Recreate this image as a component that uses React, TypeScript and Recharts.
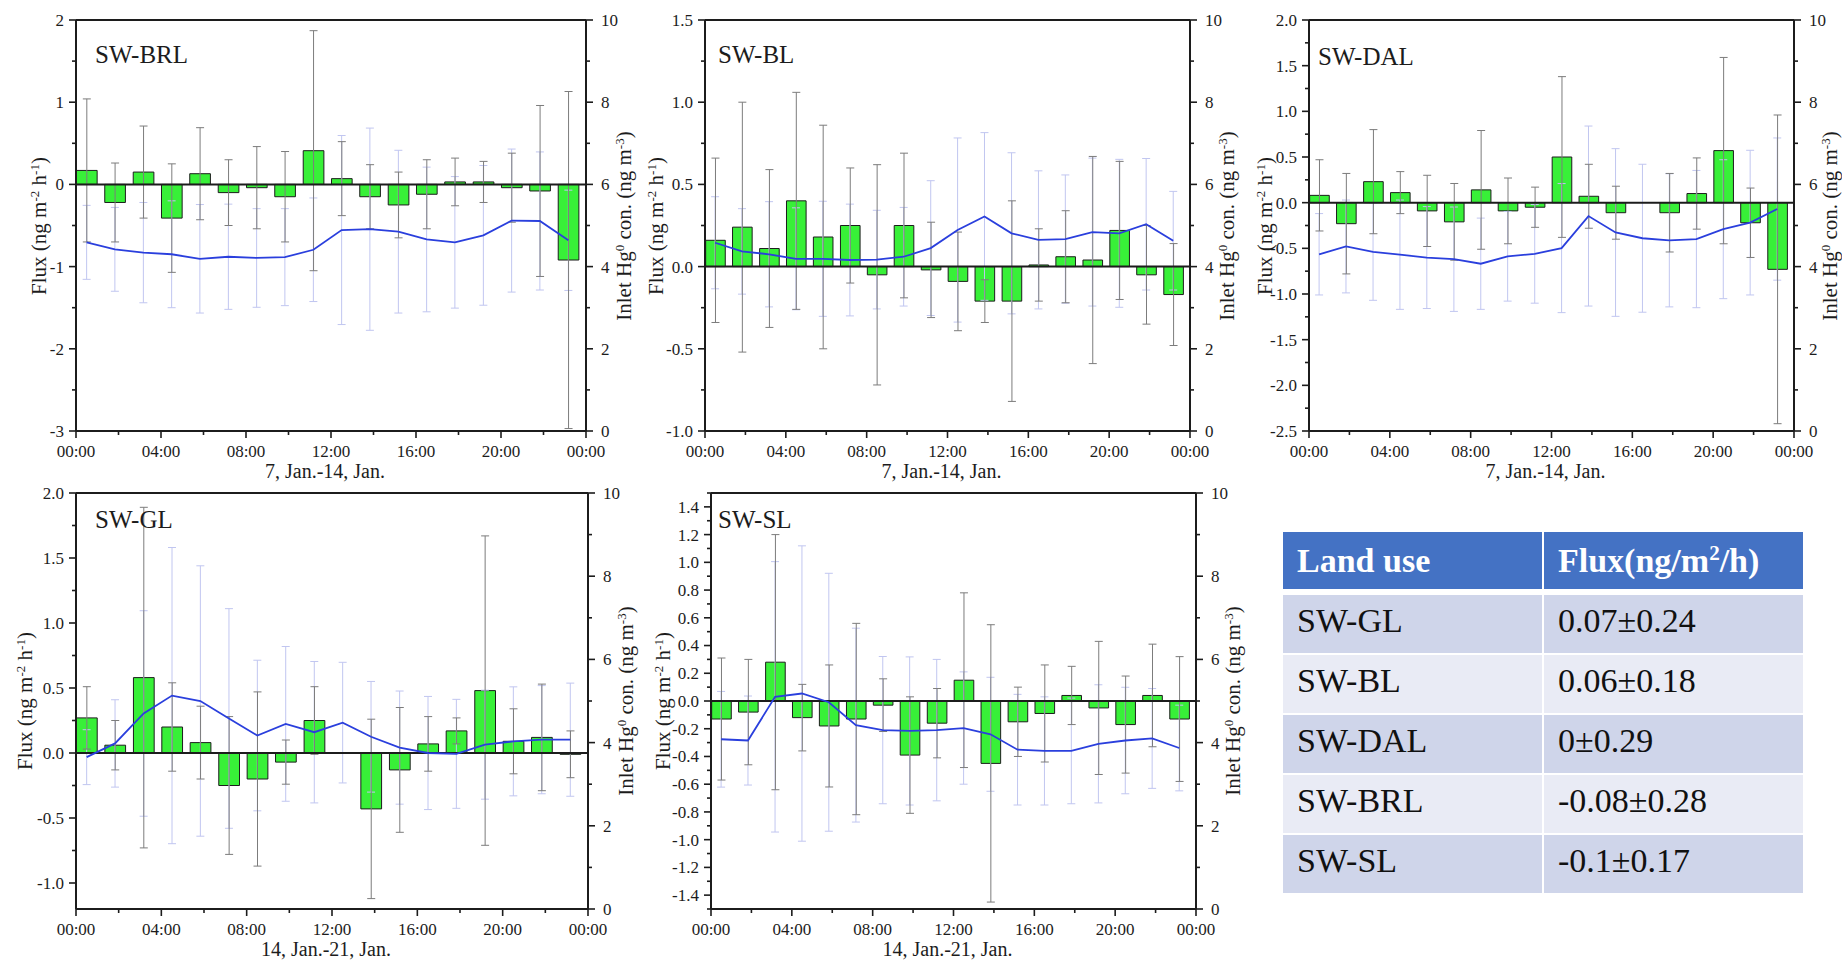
import {
  Bar,
  ComposedChart,
  ErrorBar,
  Line,
  ReferenceLine,
  XAxis,
  YAxis
} from 'recharts';

const SERIF = '"Liberation Serif", "Times New Roman", serif';
const INK = '#1c1c1c';
const GREEN = '#38f038';
const BLUE = '#2a3fdd';
const SD_DARK = '#7c7c7c';
const SD_LIGHT = '#c1c6f0';

// bin centres in hours (80 min bins over the day)
const hours = [0.5, 1.83, 3.17, 4.5, 5.83, 7.17, 8.5, 9.83, 11.17, 12.5, 13.83, 15.17, 16.5, 17.83, 19.17, 20.5, 21.83, 23.17];
const hourMajor = [0, 4, 8, 12, 16, 20, 24];
const hourMinor = [2, 6, 10, 14, 18, 22];
const hgMajor = [0, 2, 4, 6, 8, 10];
const hgMinor = [1, 3, 5, 7, 9];

// SW-BRL
const brlFlux = [0.17, -0.22, 0.15, -0.41, 0.13, -0.1, -0.04, -0.15, 0.41, 0.07, -0.15, -0.25, -0.12, 0.03, 0.03, -0.04, -0.08, -0.92];
const brlFluxSd = [0.87, 0.48, 0.56, 0.66, 0.56, 0.4, 0.5, 0.55, 1.46, 0.45, 0.39, 0.4, 0.42, 0.29, 0.25, 0.42, 1.04, 2.05];
const brlHg = [4.59, 4.42, 4.34, 4.3, 4.19, 4.24, 4.21, 4.23, 4.41, 4.89, 4.91, 4.85, 4.66, 4.59, 4.76, 5.12, 5.11, 4.64];
const brlHgSd = [0.9, 1.02, 1.22, 1.3, 1.32, 1.28, 1.2, 1.18, 1.26, 2.3, 2.46, 1.98, 1.76, 1.6, 1.7, 1.74, 1.68, 1.22];
const brlMajor = [-3, -2, -1, 0, 1, 2];
const brlMinor = [-2.5, -1.5, -0.5, 0.5, 1.5];

// SW-BL
const blFlux = [0.16, 0.24, 0.11, 0.4, 0.18, 0.25, -0.05, 0.25, -0.02, -0.09, -0.21, -0.21, 0.01, 0.06, 0.04, 0.22, -0.05, -0.17];
const blFluxSd = [0.5, 0.76, 0.48, 0.66, 0.68, 0.35, 0.67, 0.44, 0.29, 0.3, 0.13, 0.61, 0.22, 0.28, 0.63, 0.42, 0.3, 0.31];
const blHg = [4.58, 4.37, 4.3, 4.19, 4.19, 4.16, 4.17, 4.24, 4.45, 4.89, 5.22, 4.81, 4.65, 4.67, 4.84, 4.81, 5.03, 4.63];
const blHgSd = [1.12, 1.04, 1.28, 1.24, 1.4, 1.36, 1.2, 1.2, 1.64, 2.24, 2.04, 1.96, 1.68, 1.56, 1.8, 1.8, 1.6, 1.2];
const blMajor = [-1, -0.5, 0, 0.5, 1, 1.5];
const blMinor = [-0.75, -0.25, 0.25, 0.75, 1.25];

// SW-DAL
const dalFlux = [0.08, -0.23, 0.23, 0.11, -0.09, -0.21, 0.14, -0.09, -0.05, 0.5, 0.07, -0.11, 0, -0.11, 0.1, 0.57, -0.22, -0.73];
const dalFluxSd = [0.39, 0.55, 0.57, 0.23, 0.39, 0.42, 0.65, 0.36, 0.22, 0.88, 0.35, 0.29, 0.51, 0.43, 0.39, 1.02, 0.38, 1.69];
const dalHg = [4.3, 4.49, 4.36, 4.29, 4.22, 4.18, 4.07, 4.25, 4.31, 4.45, 5.23, 4.83, 4.69, 4.64, 4.67, 4.91, 5.07, 5.4];
const dalHgSd = [0.99, 1.13, 1.18, 1.33, 1.24, 1.27, 1.11, 1.09, 1.2, 1.57, 2.19, 2.04, 1.8, 1.62, 1.67, 1.69, 1.76, 1.73];
const dalMajor = [-2.5, -2, -1.5, -1, -0.5, 0, 0.5, 1, 1.5, 2];
const dalMinor = [-2.25, -1.75, -1.25, -0.75, -0.25, 0.25, 0.75, 1.25, 1.75];

// SW-GL
const glFlux = [0.27, 0.06, 0.58, 0.2, 0.08, -0.25, -0.2, -0.07, 0.25, 0, -0.43, -0.13, 0.07, 0.17, 0.48, 0.09, 0.12, -0.01];
const glFluxSd = [0.24, 0.19, 1.31, 0.34, 0.28, 0.53, 0.67, 0.17, 0.26, 0.4, 0.69, 0.48, 0.21, 0.1, 1.19, 0.25, 0.41, 0.18];
const glHg = [3.65, 3.98, 4.7, 5.13, 5.0, 4.58, 4.17, 4.45, 4.25, 4.48, 4.14, 3.88, 3.75, 3.73, 3.95, 4.03, 4.07, 4.07];
const glHgSd = [0.66, 1.05, 2.47, 3.56, 3.25, 2.64, 1.81, 1.86, 1.7, 1.45, 1.33, 1.36, 1.36, 1.31, 1.31, 1.31, 1.3, 1.36];
const glMajor = [-1, -0.5, 0, 0.5, 1, 1.5, 2];
const glMinor = [-0.75, -0.25, 0.25, 0.75, 1.25, 1.75];

// SW-SL
const slFlux = [-0.13, -0.08, 0.28, -0.12, -0.18, -0.13, -0.03, -0.39, -0.16, 0.15, -0.45, -0.15, -0.09, 0.04, -0.05, -0.17, 0.04, -0.13];
const slFluxSd = [0.44, 0.38, 0.92, 0.24, 0.44, 0.69, 0.19, 0.42, 0.25, 0.63, 1.0, 0.25, 0.35, 0.21, 0.48, 0.35, 0.37, 0.45];
const slHg = [4.08, 4.05, 5.1, 5.18, 4.97, 4.42, 4.3, 4.28, 4.3, 4.35, 4.2, 3.83, 3.8, 3.8, 3.97, 4.05, 4.1, 3.87];
const slHgSd = [1.15, 1.07, 3.25, 3.55, 3.1, 2.33, 1.77, 1.78, 1.7, 1.35, 1.37, 1.33, 1.3, 1.27, 1.42, 1.28, 1.2, 1.03];
const slMajor = [-1.4, -1.2, -1, -0.8, -0.6, -0.4, -0.2, 0, 0.2, 0.4, 0.6, 0.8, 1, 1.2, 1.4];
const slMinor = [-1.5, -1.3, -1.1, -0.9, -0.7, -0.5, -0.3, -0.1, 0.1, 0.3, 0.5, 0.7, 0.9, 1.1, 1.3, 1.5];

// summary table
const landUse = ['SW-GL', 'SW-BL', 'SW-DAL', 'SW-BRL', 'SW-SL'];
const fluxSummary = ['0.07±0.24', '0.06±0.18', '0±0.29', '-0.08±0.28', '-0.1±0.17'];

type Box = { left: number; top: number; width: number; height: number };

type PanelSpec = {
  name: string;
  flux: number[];
  fluxSd: number[];
  hg: number[];
  hgSd: number[];
  domain: [number, number];
  major: number[];
  minor: number[];
  decimals: number;
  period: string;
  box: Box;
  nameDx: number;
  nameBaseline: number;
  leftTitleX: number;
  rightTitleX: number;
};

const panels: PanelSpec[] = [
  {
    name: 'SW-BRL', flux: brlFlux, fluxSd: brlFluxSd, hg: brlHg, hgSd: brlHgSd,
    domain: [-3, 2], major: brlMajor, minor: brlMinor, decimals: 0, period: '7, Jan.-14, Jan.',
    box: { left: 76, top: 20, width: 510, height: 411 },
    nameDx: 19, nameBaseline: 63, leftTitleX: 39, rightTitleX: 624
  },
  {
    name: 'SW-BL', flux: blFlux, fluxSd: blFluxSd, hg: blHg, hgSd: blHgSd,
    domain: [-1, 1.5], major: blMajor, minor: blMinor, decimals: 1, period: '7, Jan.-14, Jan.',
    box: { left: 705, top: 20, width: 485, height: 411 },
    nameDx: 13, nameBaseline: 63, leftTitleX: 656, rightTitleX: 1227
  },
  {
    name: 'SW-DAL', flux: dalFlux, fluxSd: dalFluxSd, hg: dalHg, hgSd: dalHgSd,
    domain: [-2.5, 2], major: dalMajor, minor: dalMinor, decimals: 1, period: '7, Jan.-14, Jan.',
    box: { left: 1309, top: 20, width: 485, height: 411 },
    nameDx: 9, nameBaseline: 65, leftTitleX: 1265, rightTitleX: 1830
  },
  {
    name: 'SW-GL', flux: glFlux, fluxSd: glFluxSd, hg: glHg, hgSd: glHgSd,
    domain: [-1.2, 2], major: glMajor, minor: glMinor, decimals: 1, period: '14, Jan.-21, Jan.',
    box: { left: 76, top: 493, width: 512, height: 416 },
    nameDx: 19, nameBaseline: 528, leftTitleX: 25, rightTitleX: 626
  },
  {
    name: 'SW-SL', flux: slFlux, fluxSd: slFluxSd, hg: slHg, hgSd: slHgSd,
    domain: [-1.5, 1.5], major: slMajor, minor: slMinor, decimals: 1, period: '14, Jan.-21, Jan.',
    box: { left: 711, top: 493, width: 485, height: 416 },
    nameDx: 7, nameBaseline: 528, leftTitleX: 663, rightTitleX: 1233
  }
];

const has = (list: number[], v: number) => list.some((m) => Math.abs(m - v) < 1e-6);
const byValue = (a: number, b: number) => a - b;

function hourLabel(h: number) {
  return `${String(h % 24).padStart(2, '0')}:00`;
}

function Sup(props: { children: string }) {
  return (
    <span style={{ fontSize: '0.62em', position: 'relative', top: '-0.55em' }}>{props.children}</span>
  );
}

function Rotated(props: { x: number; y: number; children: any }) {
  return (
    <div
      style={{
        position: 'absolute',
        left: props.x,
        top: props.y,
        transform: 'translate(-50%, -50%) rotate(-90deg)',
        whiteSpace: 'nowrap',
        fontSize: 21,
        lineHeight: 1,
        color: INK
      }}
    >
      {props.children}
    </div>
  );
}

const tickText = { fontSize: 17, fill: INK, style: { fontFamily: SERIF } };

function Panel({ p }: { p: PanelSpec }) {
  const { left, top, width, height } = p.box;
  const AXW = 60;
  const PAD = 10;
  const XH = 50;
  const data = hours.map((t, i) => ({
    t,
    flux: p.flux[i],
    fluxSd: p.fluxSd[i],
    hg: p.hg[i],
    hgSd: p.hgSd[i]
  }));
  const xTicks = [...hourMajor, ...hourMinor].sort(byValue);
  const yTicks = [...p.major, ...p.minor].sort(byValue);
  const rTicks = [...hgMajor, ...hgMinor].sort(byValue);
  const midY = top + height / 2;

  const xTick = (tp: any) => {
    const major = has(hourMajor, tp.payload.value);
    return (
      <g>
        <line x1={tp.x} y1={tp.y} x2={tp.x} y2={tp.y + (major ? 7 : 4)} stroke={INK} strokeWidth={1.6} />
        {major && (
          <text x={tp.x} y={tp.y + 25.5} textAnchor="middle" {...tickText}>
            {hourLabel(tp.payload.value)}
          </text>
        )}
      </g>
    );
  };

  const leftTick = (tp: any) => {
    const v = tp.payload.value;
    const major = has(p.major, v);
    return (
      <g>
        <line x1={tp.x} y1={tp.y} x2={tp.x - (major ? 7 : 4)} y2={tp.y} stroke={INK} strokeWidth={1.6} />
        {major && (
          <text x={tp.x - 12} y={tp.y} dy="0.35em" textAnchor="end" {...tickText}>
            {v.toFixed(p.decimals)}
          </text>
        )}
      </g>
    );
  };

  const rightTick = (tp: any) => {
    const v = tp.payload.value;
    const major = has(hgMajor, v);
    return (
      <g>
        <line x1={tp.x} y1={tp.y} x2={tp.x + (major ? 7 : 4)} y2={tp.y} stroke={INK} strokeWidth={1.6} />
        {major && (
          <text x={tp.x + 15} y={tp.y} dy="0.35em" textAnchor="start" {...tickText}>
            {v}
          </text>
        )}
      </g>
    );
  };

  return (
    <>
      <div style={{ position: 'absolute', left: left - AXW, top: top - PAD }}>
        <ComposedChart
          width={width + 2 * AXW}
          height={height + PAD + XH}
          data={data}
          margin={{ top: PAD, right: 0, bottom: 0, left: 0 }}
        >
          <XAxis
            dataKey="t"
            type="number"
            domain={[0, 24]}
            ticks={xTicks}
            interval={0}
            height={XH}
            tickSize={0}
            tickMargin={0}
            tickLine={false}
            axisLine={{ stroke: INK, strokeWidth: 2 }}
            tick={xTick}
            allowDataOverflow
          />
          <YAxis
            yAxisId="left"
            type="number"
            domain={p.domain}
            ticks={yTicks}
            interval={0}
            width={AXW}
            tickSize={0}
            tickMargin={0}
            tickLine={false}
            axisLine={{ stroke: INK, strokeWidth: 2 }}
            tick={leftTick}
            allowDataOverflow
          />
          <YAxis
            yAxisId="right"
            orientation="right"
            type="number"
            domain={[0, 10]}
            ticks={rTicks}
            interval={0}
            width={AXW}
            tickSize={0}
            tickMargin={0}
            tickLine={false}
            axisLine={{ stroke: INK, strokeWidth: 2 }}
            tick={rightTick}
            allowDataOverflow
          />
          <ReferenceLine yAxisId="left" y={p.domain[1]} stroke={INK} strokeWidth={2} />
          <Line
            yAxisId="right"
            dataKey="hg"
            stroke="none"
            dot={false}
            activeDot={false}
            isAnimationActive={false}
          >
            <ErrorBar dataKey="hgSd" width={4} stroke={SD_LIGHT} strokeWidth={1} />
          </Line>
          <Bar
            yAxisId="left"
            dataKey="flux"
            barSize={width / 24 - 0.6}
            fill={GREEN}
            stroke={INK}
            strokeWidth={1}
            isAnimationActive={false}
          >
            <ErrorBar dataKey="fluxSd" width={4} stroke={SD_DARK} strokeWidth={1} />
          </Bar>
          <ReferenceLine yAxisId="left" y={0} stroke={INK} strokeWidth={2} />
          <Line
            yAxisId="right"
            dataKey="hg"
            type="linear"
            stroke={BLUE}
            strokeWidth={1.8}
            dot={false}
            activeDot={false}
            isAnimationActive={false}
          />
        </ComposedChart>
      </div>
      <div
        style={{
          position: 'absolute',
          left: left + p.nameDx,
          top: p.nameBaseline - 25 * 0.8375,
          fontSize: 25,
          lineHeight: 1,
          color: INK,
          whiteSpace: 'nowrap'
        }}
      >
        {p.name}
      </div>
      <Rotated x={p.leftTitleX} y={midY}>
        Flux (ng m<Sup>-2</Sup> h<Sup>-1</Sup>)
      </Rotated>
      <Rotated x={p.rightTitleX} y={midY}>
        Inlet Hg<Sup>0</Sup> con. (ng m<Sup>-3</Sup>)
      </Rotated>
      <div
        style={{
          position: 'absolute',
          left: left + width / 2 - 6,
          top: top + height + 40,
          transform: 'translate(-50%, -50%)',
          fontSize: 20,
          lineHeight: 0.65,
          color: INK,
          whiteSpace: 'nowrap'
        }}
      >
        {p.period}
      </div>
    </>
  );
}

function SummaryTable() {
  const x0 = 1283;
  const col1 = 259;
  const col2 = 259;
  const gap = 2;
  const headTop = 532;
  const headH = 57;
  const rowTop = 595;
  const rowH = 58;
  const cell = (x: number, y: number, w: number, h: number, bg: string, extra: any, content: any, key: string) => (
    <div
      key={key}
      style={{
        position: 'absolute',
        left: x,
        top: y,
        width: w,
        height: h,
        background: bg,
        display: 'flex',
        alignItems: 'center',
        boxSizing: 'border-box',
        paddingLeft: 14,
        lineHeight: 1,
        whiteSpace: 'nowrap',
        ...extra
      }}
    >
      {content}
    </div>
  );
  const head = { color: '#ffffff', fontWeight: 700, fontSize: 34 };
  const body = { color: '#111111', fontSize: 34, paddingBottom: 6 };
  return (
    <>
      {cell(x0, headTop, col1, headH, '#4472c4', head, 'Land use', 'h1')}
      {cell(x0 + col1 + gap, headTop, col2, headH, '#4472c4', head, <span>Flux(ng/m<Sup>2</Sup>/h)</span>, 'h2')}
      {landUse.map((name, i) => {
        const bg = i % 2 === 0 ? '#cfd5ea' : '#e9ebf5';
        const y = rowTop + i * (rowH + gap);
        return [
          cell(x0, y, col1, rowH, bg, body, name, `a${i}`),
          cell(x0 + col1 + gap, y, col2, rowH, bg, body, fluxSummary[i], `b${i}`)
        ];
      })}
    </>
  );
}

export default function App() {
  return (
    <div
      style={{
        position: 'absolute',
        left: 0,
        top: 0,
        width: 1842,
        height: 960,
        background: '#ffffff',
        fontFamily: SERIF,
        overflow: 'hidden'
      }}
    >
      {panels.map((p) => (
        <Panel key={p.name} p={p} />
      ))}
      <SummaryTable />
    </div>
  );
}
